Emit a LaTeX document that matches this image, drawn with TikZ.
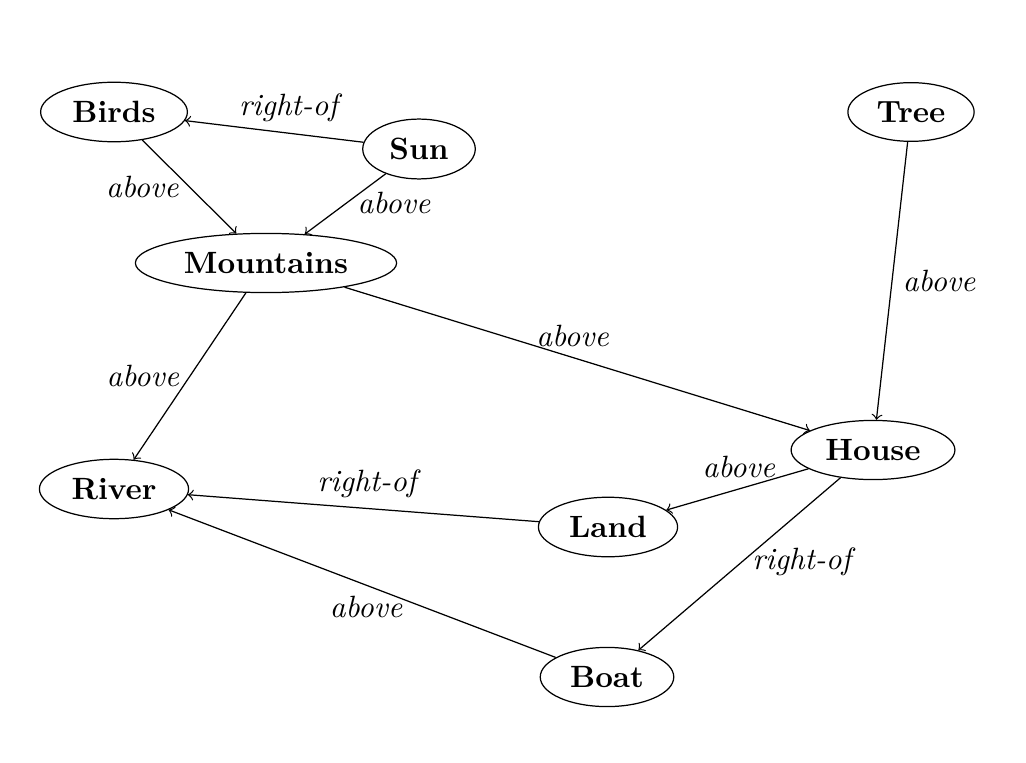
\documentclass[tikz,border=0pt]{standalone}
\usetikzlibrary{shapes.geometric}
\begin{document}
\begin{tikzpicture}[x=0.3247pt,y=-0.3247pt,
  obj/.style={draw,ellipse,font=\bfseries},
  rel/.style={->},
  lbl/.style={font=\itshape}]
\useasboundingbox (0,0) rectangle (1026,762);
\node[obj] (birds) at (114,112) {Birds};
\node[obj] (sun) at (419,149) {Sun};
\node[obj] (tree) at (911,112) {Tree};
\node[obj] (mount) at (266,263) {Mountains};
\node[obj] (house) at (873,450) {House};
\node[obj] (river) at (114,489) {River};
\node[obj] (land) at (608,527) {Land};
\node[obj] (boat) at (607,677) {Boat};

\draw[rel] (sun) -- node[lbl,pos=0.42,above] {right-of} (birds);
\draw[rel] (birds) -- node[lbl,pos=0.5,left] {above} (mount);
\draw[rel] (sun) -- node[lbl,pos=0.48,right] {above} (mount);
\draw[rel] (mount) -- node[lbl,pos=0.49,above] {above} (house);
\draw[rel] (mount) -- node[lbl,pos=0.5,left] {above} (river);
\draw[rel] (tree) -- node[lbl,pos=0.5,right] {above} (house);
\draw[rel] (house) -- node[lbl,pos=0.49,above] {above} (land);
\draw[rel] (land) -- node[lbl,pos=0.49,above] {right-of} (river);
\draw[rel] (house) -- node[lbl,pos=0.49,right] {right-of} (boat);
\draw[rel] (boat) -- node[lbl,pos=0.49,below] {above} (river);
\end{tikzpicture}
\end{document}
